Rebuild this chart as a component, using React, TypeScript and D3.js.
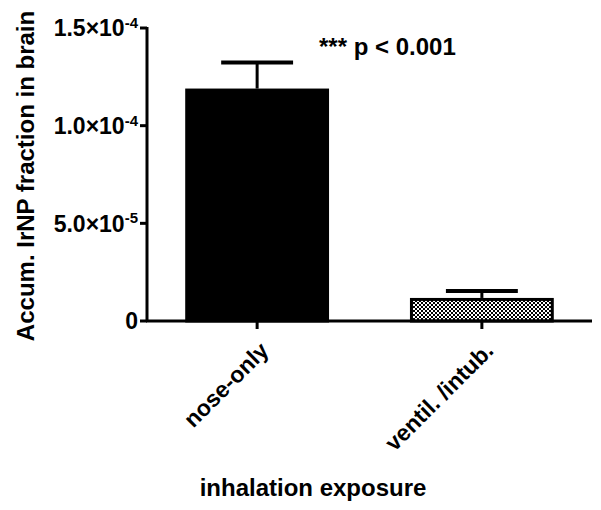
import React from 'react';
import * as d3 from 'd3';

const categories = ['nose-only', 'ventil. /intub.'];
const means = [1.19e-4, 1.18e-5];
const sems = [1.33e-5, 3.6e-6];
const tickValues = [0, 5e-5, 1e-4, 1.5e-4];
const tickMantissas = ['0', '5.0', '1.0', '1.5'];
const tickExponents = ['', '-5', '-4', '-4'];

const W = 601;
const H = 510;
const margin = { top: 28, right: 9, bottom: 189, left: 147 };

const App = () => {
  const innerW = W - margin.left - margin.right;
  const innerH = H - margin.top - margin.bottom;

  const x = d3.scaleBand<string>().domain(categories).range([0, innerW]).paddingInner(0.36).paddingOuter(0.17);
  const y = d3.scaleLinear().domain([0, 1.5e-4]).range([innerH, 0]);
  const font = '"Liberation Sans", Arial, sans-serif';

  return (
    <svg width={W} height={H} style={{ position: 'absolute', left: 0, top: 0 }} fontFamily={font} fontWeight="bold">
      <defs>
        <pattern id="checker" width={4} height={4} patternUnits="userSpaceOnUse">
          <rect width={4} height={4} fill="#fff" />
          <rect x={0} y={0} width={2} height={2} fill="#000" />
          <rect x={2} y={2} width={2} height={2} fill="#000" />
        </pattern>
      </defs>
      <g transform={`translate(${margin.left},${margin.top})`}>
        {/* bars */}
        {categories.map((c, i) => {
          const bx = x(c)!;
          const bw = x.bandwidth();
          const cx = bx + bw / 2;
          const top = y(means[i]);
          const errTop = y(means[i] + sems[i]);
          const capW = bw * 0.5;
          return (
            <g key={c}>
              <line x1={cx} x2={cx} y1={top} y2={errTop} stroke="#000" strokeWidth={3} />
              <line x1={cx - capW / 2} x2={cx + capW / 2} y1={errTop} y2={errTop} stroke="#000" strokeWidth={4} />
              <rect
                x={bx + 1.5}
                y={top + 1.5}
                width={bw - 3}
                height={innerH - top - 1.5}
                fill={i === 0 ? '#000' : 'url(#checker)'}
                stroke="#000"
                strokeWidth={3}
              />
            </g>
          );
        })}

        {/* y axis */}
        <line x1={0} x2={0} y1={-1} y2={innerH} stroke="#000" strokeWidth={3} />
        {tickValues.map((v, i) => (
          <g key={v} transform={`translate(0,${y(v)})`}>
            <line x1={-7} x2={0} stroke="#000" strokeWidth={3} />
            <text x={-9} dy="0.36em" textAnchor="end" fontSize={23}>
              {tickMantissas[i]}
              {tickExponents[i] && (
                <>
                  <tspan>×10</tspan>
                  <tspan dy="-0.55em" fontSize={15}>{tickExponents[i]}</tspan>
                </>
              )}
            </text>
          </g>
        ))}

        {/* x axis */}
        <line x1={-1} x2={innerW} y1={innerH} y2={innerH} stroke="#000" strokeWidth={3} />
        {categories.map(c => {
          const cx = x(c)! + x.bandwidth() / 2;
          return (
            <g key={c} transform={`translate(${cx},${innerH})`}>
              <line y1={0} y2={8} stroke="#000" strokeWidth={3} />
              <text transform="translate(13,31) rotate(-45)" textAnchor="end" fontSize={23}>
                {c}
              </text>
            </g>
          );
        })}

        <text x={172} y={27} fontSize={24}>*** p &lt; 0.001</text>
      </g>

      <text transform={`translate(34,176) rotate(-90)`} textAnchor="middle" fontSize={24}>
        Accum. IrNP fraction in brain
      </text>
      <text x={313} y={496} textAnchor="middle" fontSize={24}>inhalation exposure</text>
    </svg>
  );
};

export default App;
